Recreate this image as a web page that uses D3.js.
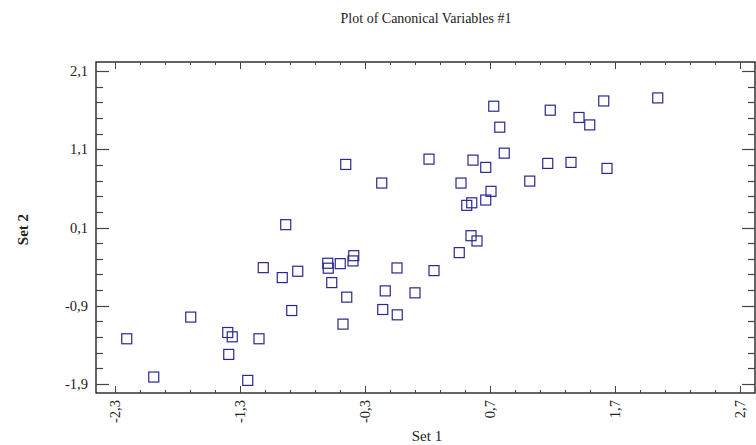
<!DOCTYPE html>
<html>
<head>
<meta charset="utf-8">
<script src="https://cdn.jsdelivr.net/npm/d3@7"></script>
<style>
  html, body { margin: 0; padding: 0; background: #fff; }
  svg { display: block; }
  text { font-family: "Liberation Serif", "Times New Roman", serif; fill: #222; }
</style>
</head>
<body>
<svg id="chart" width="756" height="445"></svg>
<script>
// ---- data ----
const set1 = [-2.206, -1.990, -1.694, -1.398, -1.362, -1.390, -1.238, -1.148, -1.114, -0.934,
  -0.962, -0.838, -0.886, -0.598, -0.594, -0.498, -0.390, -0.396, -0.566, -0.446,
  -0.476, -0.454, -0.166, -0.044, -0.138, -0.158, -0.042, 0.100, 0.252, 0.212,
  0.454, 0.468, 0.514, 0.554, 0.548, 0.596, 0.564, 0.666, 0.666, 0.708,
  0.730, 0.778, 0.814, 1.018, 1.162, 1.182, 1.348, 1.412, 1.498, 1.610,
  1.636, 2.042];
const set2 = [-1.322, -1.811, -1.045, -1.242, -1.297, -1.522, -1.854, -1.322, -0.413, 0.136,
  -0.540, -0.459, -0.961, -0.357, -0.420, -0.362, -0.260, -0.327, -0.604, -0.790,
  -1.135, 0.906, 0.668, -0.417, -0.710, -0.948, -1.016, -0.735, -0.451, 0.974,
  -0.221, 0.668, 0.383, 0.416, -0.005, -0.072, 0.961, 0.868, 0.451, 0.562,
  1.650, 1.382, 1.050, 0.693, 0.919, 1.599, 0.932, 1.506, 1.411, 1.717,
  0.855, 1.756];
const xTickValues = [-2.3, -1.3, -0.3, 0.7, 1.7, 2.7];
const yTickValues = [-1.9, -0.9, 0.1, 1.1, 2.1];
const title = "Plot of Canonical Variables #1";
const xTitle = "Set 1";
const yTitle = "Set 2";

(function () {
// ---- layout ----
const svg = d3.select("#chart");
const L = 96, R = 755, T = 62, B = 393;
const x = d3.scaleLinear().domain([-2.452, 2.82]).range([L, R]);
const y = d3.scaleLinear().domain([-2.015, 2.215]).range([B, T]);

const fmt = v => d3.format(".1f")(v).replace(".", ",").replace("\u2212", "-");
const minorX = d3.range(-2.3, 2.81, 0.2);
const minorY = d3.range(-1.9, 2.2, 0.2);
const isMajor = (v, majors) => majors.some(m => Math.abs(m - v) < 1e-6);

const tickCol = "#444";

// frame
svg.append("rect")
  .attr("x", L).attr("y", T)
  .attr("width", R - L).attr("height", B - T)
  .attr("fill", "none").attr("stroke", "#111").attr("stroke-width", 1.3);

// x ticks (bottom and top)
const xt = svg.append("g").attr("stroke", tickCol).attr("stroke-width", 1);
minorX.forEach(v => {
  const major = isMajor(v, xTickValues);
  const len = major ? 7 : 3;
  const px = Math.round(x(v)) + 0.5;
  xt.append("line").attr("x1", px).attr("x2", px).attr("y1", B).attr("y2", B - len);
  xt.append("line").attr("x1", px).attr("x2", px).attr("y1", T).attr("y2", T + len);
});
// y ticks (left and right)
const yt = svg.append("g").attr("stroke", tickCol).attr("stroke-width", 1.2);
minorY.forEach(v => {
  const major = isMajor(v, yTickValues);
  const len = major ? 13 : 7;
  const py = Math.round(y(v)) + 0.5;
  yt.append("line").attr("x1", L).attr("x2", L + len).attr("y1", py).attr("y2", py);
  yt.append("line").attr("x1", R).attr("x2", R - len).attr("y1", py).attr("y2", py);
});

// tick labels
svg.append("g").selectAll("text").data(yTickValues).join("text")
  .attr("x", L - 8).attr("y", d => y(d))
  .attr("dy", "0.35em").attr("text-anchor", "end")
  .style("font-size", "14.5px")
  .text(fmt);

svg.append("g").selectAll("text").data(xTickValues).join("text")
  .attr("transform", d => `translate(${x(d)},${B + 7}) rotate(-90)`)
  .attr("dy", "0.35em").attr("text-anchor", "end")
  .style("font-size", "14.5px")
  .text(fmt);

// titles
svg.append("text").attr("x", 426).attr("y", 23).attr("text-anchor", "middle")
  .style("font-size", "14px").text(title);
svg.append("text").attr("x", 427).attr("y", 441).attr("text-anchor", "middle")
  .style("font-size", "15px").text(xTitle);
svg.append("text").attr("transform", `translate(23,${(T + B) / 2 + 2}) rotate(-90)`)
  .attr("text-anchor", "middle").attr("dy", "0.35em")
  .style("font-size", "15px").style("font-weight", "bold").text(yTitle);

// points
const pts = set1.map((v, i) => ({ a: v, b: set2[i] }));
const s = 10;
svg.append("g").selectAll("rect").data(pts).join("rect")
  .attr("x", d => x(d.a) - s / 2).attr("y", d => y(d.b) - s / 2)
  .attr("width", s).attr("height", s)
  .attr("fill", "none").attr("stroke", "#28288f").attr("stroke-width", 1.2);
})();
</script>
</body>
</html>
